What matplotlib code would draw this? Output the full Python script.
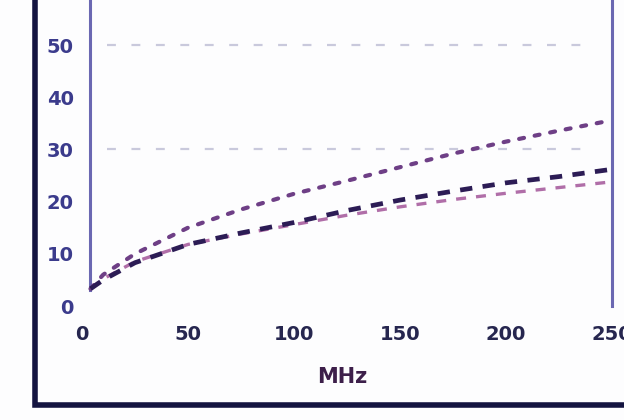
import matplotlib
matplotlib.use("Agg")
import matplotlib.pyplot as plt
from matplotlib.lines import Line2D

# Frequency grid (MHz) and the three attenuation curves
freq_mhz = [4, 10, 25, 50, 75, 100, 125, 150, 175, 200, 225, 250]
upper_dotted = [3.3, 6.0, 10.0, 15.0, 18.5, 21.5, 24.0, 26.6, 29.2, 31.5, 33.6, 35.6]
middle_dashed = [3.3, 5.0, 8.3, 11.8, 14.0, 16.0, 18.3, 20.3, 22.0, 23.6, 24.8, 26.2]
lower_dashed = [3.3, 5.2, 8.5, 11.8, 13.8, 15.6, 17.4, 19.0, 20.4, 21.6, 22.7, 23.8]

x_ticks = [0, 50, 100, 150, 200, 250]
y_ticks = [0, 10, 20, 30, 40, 50, 60]
grid_levels = [30, 50]

fig = plt.figure(figsize=(6.24, 4.2), dpi=100)
fig.patch.set_facecolor("#fdfdfe")

ax = fig.add_axes([0.1314, 0.2714, 0.8494, 0.758])
ax.set_facecolor("none")
ax.set_xlim(0, 250)
ax.set_ylim(0, 61)

for g in grid_levels:
    ax.plot([12, 240], [g, g], color="#c9c9dc", lw=1.6, dashes=(4, 7), zorder=1)

ax.plot(freq_mhz, upper_dotted, color="#6e3f86", lw=3.0, dashes=(1.2, 2.6),
        dash_capstyle="round", zorder=3)
ax.plot(freq_mhz, lower_dashed, color="#b06ea8", lw=2.4, dashes=(3, 3), zorder=3)
ax.plot(freq_mhz, middle_dashed, color="#2c1c55", lw=3.4, dashes=(2.6, 2.2), zorder=4)

ax.spines["top"].set_visible(False)
ax.spines["bottom"].set_visible(False)
for side in ("left", "right"):
    ax.spines[side].set_color("#6b68b2")
    ax.spines[side].set_linewidth(2.2)
ax.spines["left"].set_position(("data", 4))
ax.spines["left"].set_bounds(3, 61)
ax.spines["right"].set_bounds(0, 61)

ax.set_xticks(x_ticks)
ax.set_yticks(y_ticks)
ax.tick_params(axis="both", length=0)
ax.tick_params(axis="y", pad=12, labelsize=14, labelcolor="#3b3b8c")
ax.tick_params(axis="x", pad=14, labelsize=14, labelcolor="#26264f")
for lab in ax.get_xticklabels() + ax.get_yticklabels():
    lab.set_fontweight("bold")

fig.text(342 / 624, 1 - 377 / 420, "MHz", ha="center", va="center",
         fontsize=15, fontweight="bold", color="#3d1f4a")

# Outer frame around the plot
frame_x, frame_y = 35 / 624, 1 - 405 / 420
fig.add_artist(Line2D([frame_x, frame_x, 1.0], [1.0, frame_y, frame_y],
                      transform=fig.transFigure, color="#141440", lw=4.0,
                      solid_joinstyle="miter"))

fig.savefig("out.png", dpi=100)
